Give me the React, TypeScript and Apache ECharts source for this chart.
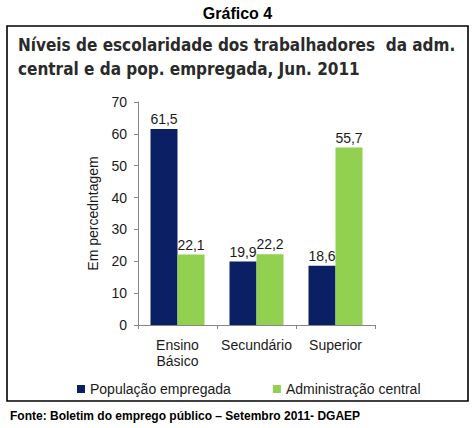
import React, { useEffect, useRef } from "react";
import * as echarts from "echarts";

const categories = ["Ensino\nBásico", "Secundário", "Superior"];
const populacaoEmpregada = [61.5, 19.9, 18.6];
const administracaoCentral = [22.1, 22.2, 55.7];
const seriesNames = ["População empregada", "Administração central"];
const yTicks = { min: 0, max: 70, interval: 10 };
const topHeading = "Gráfico 4";
const titleLines = [
  "Níveis de escolaridade dos trabalhadores  da adm.",
  "central e da pop. empregada, Jun. 2011",
];
const yAxisName = "Em percedntagem";
const footer = "Fonte: Boletim do emprego público – Setembro 2011- DGAEP";

const FONT = "'Liberation Sans', Arial, sans-serif";
const NAVY = "#0B1F65";
const GREEN = "#92D050";
const TEXT = "#1a1a1a";

const fmt = (v: number) => v.toFixed(1).replace(".", ",");

export default function App() {
  const ref = useRef<HTMLDivElement>(null);
  useEffect(() => {
    if (!ref.current) return;
    const chart = echarts.init(ref.current, null, { renderer: "svg" });
    chart.setOption({
      animation: false,
      backgroundColor: "#ffffff",
      textStyle: { fontFamily: FONT },
      graphic: [
        {
          type: "text",
          x: 237.5,
          y: 13,
          style: {
            text: topHeading,
            font: `bold 16px ${FONT}`,
            fill: "#000",
            textAlign: "center",
            textVerticalAlign: "middle",
          },
        },
        {
          type: "rect",
          shape: { x: 7, y: 26, width: 461, height: 375 },
          style: { fill: "none", stroke: "#000", lineWidth: 1.6 },
        },
        {
          type: "text",
          x: 18,
          y: 45,
          scaleX: 0.9,
          style: {
            text: titleLines[0],
            font: `bold 17px 'DejaVu Sans', Tahoma, sans-serif`,
            fill: "#2a2a2a",
            textAlign: "left",
            textVerticalAlign: "middle",
          },
        },
        {
          type: "text",
          x: 18,
          y: 69,
          scaleX: 0.9,
          style: {
            text: titleLines[1],
            font: `bold 17px 'DejaVu Sans', Tahoma, sans-serif`,
            fill: "#2a2a2a",
            textAlign: "left",
            textVerticalAlign: "middle",
          },
        },
        {
          type: "text",
          x: 10,
          y: 416,
          style: {
            text: footer,
            font: `bold 12px ${FONT}`,
            fill: "#000",
            textAlign: "left",
            textVerticalAlign: "middle",
          },
        },
      ],
      legend: {
        left: 72,
        top: 377,
        icon: "rect",
        itemWidth: 8,
        itemHeight: 8,
        itemGap: 42,
        textStyle: { fontSize: 14, color: TEXT, fontFamily: FONT },
        data: seriesNames,
      },
      grid: { left: 138, right: 100, top: 102, bottom: 103, containLabel: false },
      xAxis: {
        type: "category",
        data: categories,
        axisLine: { lineStyle: { color: "#868686", width: 1 } },
        axisTick: { show: true, length: 4, lineStyle: { color: "#868686" } },
        axisLabel: {
          interval: 0,
          hideOverlap: false,
          fontSize: 14,
          color: TEXT,
          fontFamily: FONT,
          margin: 12,
          lineHeight: 16,
        },
      },
      yAxis: {
        type: "value",
        min: yTicks.min,
        max: yTicks.max,
        interval: yTicks.interval,
        name: yAxisName,
        nameLocation: "middle",
        nameRotate: 90,
        nameGap: 38,
        nameTextStyle: { fontSize: 14, color: TEXT, fontFamily: FONT },
        axisLine: { show: true, lineStyle: { color: "#868686", width: 1 } },
        axisTick: { show: true, length: 4, lineStyle: { color: "#868686" } },
        splitLine: { show: false },
        axisLabel: { fontSize: 14, color: TEXT, fontFamily: FONT, margin: 11 },
      },
      series: [
        {
          name: seriesNames[0],
          type: "bar",
          data: populacaoEmpregada,
          barWidth: 27,
          barGap: "0%",
          itemStyle: { color: NAVY },
          label: {
            show: true,
            position: "top",
            distance: 3,
            fontSize: 14,
            color: TEXT,
            fontFamily: FONT,
            formatter: (p: any) => fmt(p.value),
          },
        },
        {
          name: seriesNames[1],
          type: "bar",
          data: administracaoCentral,
          barWidth: 27,
          barGap: "0%",
          itemStyle: { color: GREEN },
          label: {
            show: true,
            position: "top",
            distance: 3,
            fontSize: 14,
            color: TEXT,
            fontFamily: FONT,
            formatter: (p: any) => fmt(p.value),
          },
        },
      ],
    });
    return () => chart.dispose();
  }, []);
  return (
    <div
      ref={ref}
      style={{ position: "fixed", left: 0, top: 0, width: 475, height: 428, background: "#fff" }}
    />
  );
}
